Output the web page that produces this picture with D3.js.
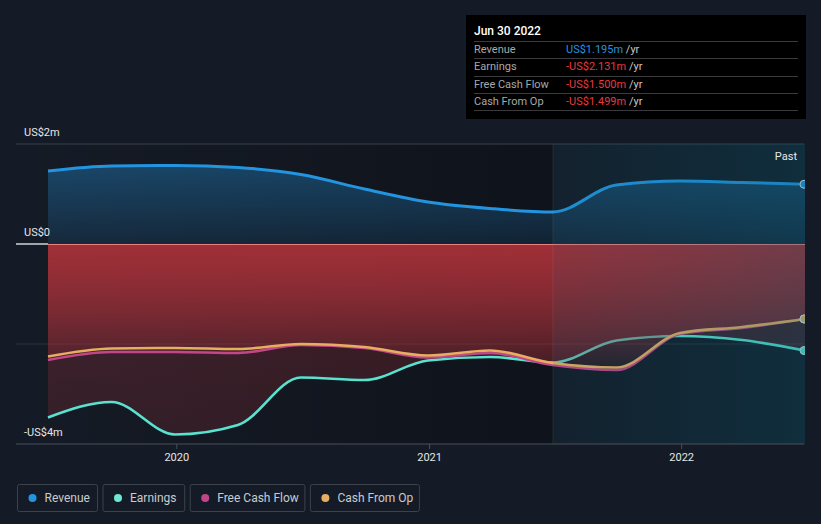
<!DOCTYPE html>
<html><head><meta charset="utf-8">
<script src="https://cdn.jsdelivr.net/npm/d3@7"></script>
<style>
html,body{margin:0;padding:0;background:#151b26;}
svg{display:block;font-family:Roboto,"Noto Sans",sans-serif;}
</style></head>
<body>
<svg id="c" width="821" height="524"></svg>
<script>
const dates = ["2019-06-30","2019-09-30","2019-12-31","2020-03-31","2020-06-30","2020-09-30","2020-12-31","2021-03-31","2021-06-30","2021-09-30","2021-12-31","2022-03-31","2022-06-30"];
const revenue = [1.46,1.56,1.57,1.53,1.39,1.10,0.84,0.71,0.64,1.18,1.26,1.23,1.195];
const earnings = [-3.47,-3.16,-3.81,-3.62,-2.67,-2.72,-2.33,-2.26,-2.37,-1.93,-1.84,-1.92,-2.131];
const freeCashFlow = [-2.32,-2.16,-2.16,-2.18,-2.02,-2.08,-2.27,-2.18,-2.42,-2.52,-1.80,-1.68,-1.500];
const cashFromOp = [-2.25,-2.09,-2.08,-2.10,-2.00,-2.06,-2.23,-2.13,-2.38,-2.47,-1.78,-1.66,-1.499];
const yTicks = [2, 0, -4];
const yTickLabels = ["US$2m","US$0","-US$4m"];
const xTicks = ["2020-01-01","2021-01-01","2022-01-01"];
const xTickLabels = ["2020","2021","2022"];
const pastStart = "2021-06-30";
const seriesNames = ["Revenue","Earnings","Free Cash Flow","Cash From Op"];
const tipTitle = "Jun 30 2022";
const tipValues = ["US$1.195m","-US$2.131m","-US$1.500m","-US$1.499m"];

const colors = {Revenue:"#2394df", Earnings:"#58e2cf", "Free Cash Flow":"#c4468a", "Cash From Op":"#e6ae5e"};
const legendColors = ["#2394df","#6de6d4","#c0468a","#e5ae62"];

const parse = d3.timeParse("%Y-%m-%d");
const D = dates.map(parse);
const svg = d3.select("#c");
const L = 16, R = 805, T = 144, B = 444;
const x = d3.scaleTime().domain([D[0], D[D.length-1]]).range([48, 805]);
const y = d3.scaleLinear().domain([-4, 2]).range([B, T]);

const defs = svg.append("defs");
defs.append("clipPath").attr("id","clip").append("rect").attr("x",L).attr("y",T-10).attr("width",R-L).attr("height",B-T+10);

function vgrad(id, color, a0, a1){
  const g = defs.append("linearGradient").attr("id",id).attr("x1",0).attr("y1",0).attr("x2",0).attr("y2",1);
  g.append("stop").attr("offset","0%").attr("stop-color",color).attr("stop-opacity",a0);
  g.append("stop").attr("offset","100%").attr("stop-color",color).attr("stop-opacity",a1);
}
vgrad("gRev","#2394df",0.36,0.12);
vgrad("gEarn","#b0323a",0.30,0.20);
vgrad("gRed","#b0323a",0.62,0.05);
const hg = defs.append("linearGradient").attr("id","gPast").attr("x1",0).attr("y1",0).attr("x2",1).attr("y2",0);
hg.append("stop").attr("offset","0%").attr("stop-color","#045a72").attr("stop-opacity",0.10);
hg.append("stop").attr("offset","100%").attr("stop-color","#045a72").attr("stop-opacity",0.30);
const lg = defs.append("linearGradient").attr("id","gLeft").attr("x1",0).attr("y1",0).attr("x2",1).attr("y2",0);
lg.append("stop").attr("offset","0%").attr("stop-color","#000").attr("stop-opacity",0.0);
lg.append("stop").attr("offset","100%").attr("stop-color","#000").attr("stop-opacity",0.3);

svg.append("rect").attr("x",L).attr("y",T).attr("width",x(parse(pastStart))-L).attr("height",B-T).attr("fill","url(#gLeft)");

svg.append("line").attr("x1",L).attr("x2",R-1).attr("y1",y(2)).attr("y2",y(2)).attr("stroke","#3a404b").attr("stroke-width",1);
svg.append("line").attr("x1",L).attr("x2",R-1).attr("y1",y(-2)).attr("y2",y(-2)).attr("stroke","#ffffff").attr("stroke-opacity",0.1).attr("stroke-width",1);

const g = svg.append("g").attr("clip-path","url(#clip)");
const curve = d3.curveMonotoneX;
function area(vals){ return d3.area().x((d,i)=>x(D[i])).y0(y(0)).y1(d=>y(d)).curve(curve)(vals); }
function line(vals){ return d3.line().x((d,i)=>x(D[i])).y(d=>y(d)).curve(curve)(vals); }

g.append("path").attr("d",area(revenue)).attr("fill","url(#gRev)");
g.append("path").attr("d",line(revenue)).attr("fill","none").attr("stroke",colors.Revenue).attr("stroke-width",3);

g.append("path").attr("d",area(earnings)).attr("fill","url(#gEarn)");
g.append("path").attr("d",line(earnings)).attr("fill","none").attr("stroke",colors.Earnings).attr("stroke-width",2.6);

g.append("path").attr("d",area(freeCashFlow)).attr("fill","url(#gRed)");
g.append("path").attr("d",line(freeCashFlow)).attr("fill","none").attr("stroke",colors["Free Cash Flow"]).attr("stroke-width",2.6);

g.append("path").attr("d",area(cashFromOp)).attr("fill","url(#gRed)");
g.append("path").attr("d",line(cashFromOp)).attr("fill","none").attr("stroke",colors["Cash From Op"]).attr("stroke-width",2.6);

svg.append("line").attr("x1",L).attr("x2",x(D[0])).attr("y1",y(0)).attr("y2",y(0)).attr("stroke","#ffffff").attr("stroke-width",1.2);
g.append("line").attr("x1",x(D[0])).attr("x2",R).attr("y1",y(0)+0.5).attr("y2",y(0)+0.5).attr("stroke","#e88080").attr("stroke-width",1);

const px = x(parse(pastStart));
svg.append("rect").attr("x",px).attr("y",T).attr("width",R-px).attr("height",B-T).attr("fill","url(#gPast)");
svg.append("line").attr("x1",px).attr("x2",px).attr("y1",T).attr("y2",B).attr("stroke","#ffffff").attr("stroke-opacity",0.07);
svg.append("text").attr("x",797).attr("y",160).attr("text-anchor","end").attr("fill","#e8e8e8").attr("font-size",11).text("Past");

const last = D.length-1;
[[revenue,colors.Revenue],[freeCashFlow,colors["Free Cash Flow"]],[earnings,colors.Earnings],[cashFromOp,colors["Cash From Op"]]].forEach(([v,c])=>{
  g.append("circle").attr("cx",x(D[last])-1).attr("cy",y(v[last])).attr("r",4).attr("fill",c).attr("stroke","#dfe6ea").attr("stroke-width",1);
});

const xa = svg.append("g").attr("transform",`translate(0,${B})`);
xa.append("line").attr("x1",L).attr("x2",R-1).attr("y1",0).attr("y2",0).attr("stroke","#4a505a").attr("stroke-width",1);
xTicks.forEach((t,i)=>{
  const xx = x(parse(t)) + 1;
  xa.append("line").attr("x1",xx).attr("x2",xx).attr("y1",0).attr("y2",5).attr("stroke","#4a505a");
  xa.append("text").attr("x",xx).attr("y",17).attr("text-anchor","middle").attr("fill","#e6e6e6").attr("font-size",11).text(xTickLabels[i]);
});

yTicks.forEach((t,i)=>{
  svg.append("text").attr("x",24).attr("y",y(t)-8).attr("fill","#e6e6e6").attr("font-size",11).text(yTickLabels[i]);
});

const tip = svg.append("g");
tip.append("rect").attr("x",466).attr("y",15).attr("width",340).attr("height",104).attr("fill","#000000");
tip.append("text").attr("x",474).attr("y",35).attr("fill","#ffffff").attr("font-size",12).attr("font-weight",500).text(tipTitle);
const sepY = [41.5,58.5,76.5,93.5,110.5];
sepY.forEach(s=>tip.append("line").attr("x1",474).attr("x2",798).attr("y1",s).attr("y2",s).attr("stroke","#3a3a3a").attr("stroke-width",1));
const rowY = [53,70,88,105];
seriesNames.forEach((n,i)=>{
  tip.append("text").attr("x",474).attr("y",rowY[i]).attr("fill","#a8a8a8").attr("font-size",11).text(n);
  const t = tip.append("text").attr("x",566).attr("y",rowY[i]).attr("font-size",11);
  t.append("tspan").attr("fill", i===0 ? "#2394df" : "#e8393e").text(tipValues[i]);
  t.append("tspan").attr("fill","#c8c8c8").text(" /yr");
});

const legW = [81,82.7,115.7,110];
let lx = 17;
seriesNames.forEach((n,i)=>{
  const lgG = svg.append("g");
  lgG.append("rect").attr("x",lx+0.5).attr("y",484.5).attr("width",legW[i]-1).attr("height",27).attr("rx",2).attr("fill","none").attr("stroke","#3c424c");
  lgG.append("circle").attr("cx",lx+15.5).attr("cy",498).attr("r",4).attr("fill",legendColors[i]);
  lgG.append("text").attr("x",lx+27.5).attr("y",502).attr("fill","#c8cbd0").attr("font-size",12).text(n);
  lx += legW[i] + 4.5;
});
</script>
</body></html>
